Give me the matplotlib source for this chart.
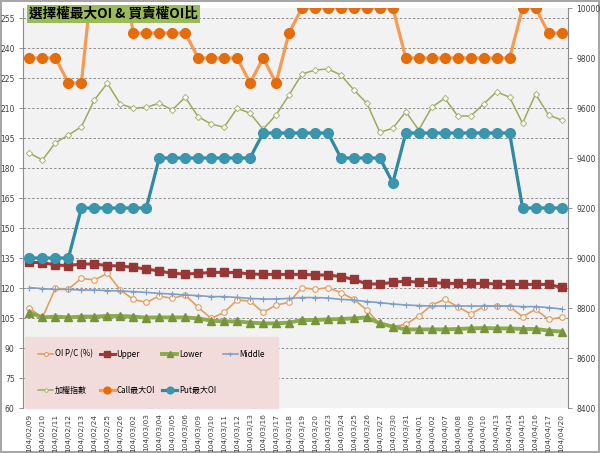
import matplotlib
matplotlib.use("Agg")
import matplotlib.pyplot as plt
import numpy as np

plt.rcParams['font.family'] = ['Noto Sans CJK TC', 'DejaVu Sans']

dates = ["104/02/09", "104/02/10", "104/02/11", "104/02/12", "104/02/13", "104/02/24",
         "104/02/25", "104/02/26", "104/03/02", "104/03/03", "104/03/04", "104/03/05",
         "104/03/06", "104/03/09", "104/03/10", "104/03/11", "104/03/12", "104/03/13",
         "104/03/16", "104/03/17", "104/03/18", "104/03/19", "104/03/20", "104/03/23",
         "104/03/24", "104/03/25", "104/03/26", "104/03/27", "104/03/30", "104/03/31",
         "104/04/01", "104/04/02", "104/04/07", "104/04/08", "104/04/09", "104/04/10",
         "104/04/13", "104/04/14", "104/04/15", "104/04/16", "104/04/17", "104/04/20"]

# left axis
oi_pc = [109.8, 105.3, 119.8, 119.5, 124.8, 124.0, 127.3, 119.0, 114.3, 112.8, 116.0, 114.8,
         116.5, 110.3, 104.8, 107.8, 114.0, 113.5, 107.8, 111.5, 112.8, 120.2, 119.3, 120.2,
         117.7, 114.3, 109.0, 101.8, 100.7, 101.8, 106.0, 111.5, 114.3, 110.7, 107.0, 110.7,
         111.2, 110.7, 105.7, 109.3, 104.3, 105.3]
upper = [132.8, 132.7, 131.5, 131.2, 132.0, 132.0, 131.2, 131.0, 130.3, 129.5, 128.5, 127.3,
         127.0, 127.3, 127.8, 127.8, 127.7, 127.0, 126.8, 126.8, 126.8, 126.8, 126.5, 126.5,
         125.7, 124.3, 122.0, 122.0, 122.8, 123.5, 122.8, 122.8, 122.3, 122.3, 122.3, 122.3,
         122.0, 121.8, 121.8, 121.8, 121.8, 120.3]
lower = [107.7, 105.3, 105.7, 105.3, 105.7, 105.7, 106.0, 106.0, 105.7, 105.2, 105.3, 105.3,
         105.3, 104.8, 103.7, 103.3, 103.3, 102.7, 102.3, 102.3, 102.7, 104.0, 104.0, 104.3,
         104.5, 104.8, 105.3, 102.3, 100.7, 99.3, 99.3, 99.3, 99.3, 99.5, 99.8, 100.0,
         99.8, 99.8, 99.5, 99.5, 98.7, 98.2]
middle = [120.2, 119.7, 119.3, 119.3, 119.0, 119.0, 118.7, 118.5, 118.2, 117.8, 117.3, 117.0,
          116.5, 116.2, 115.7, 115.7, 115.3, 114.8, 114.5, 114.5, 114.8, 115.2, 115.2, 115.0,
          114.3, 114.0, 113.2, 112.7, 112.0, 111.5, 111.2, 111.0, 111.0, 111.0, 111.0, 111.0,
          111.0, 111.0, 110.7, 110.7, 110.2, 109.5]

# right axis
taiex = [9419, 9392, 9461, 9492, 9525, 9632, 9699, 9616, 9599, 9603, 9619, 9592,
         9643, 9565, 9536, 9523, 9599, 9579, 9515, 9572, 9652, 9736, 9752, 9756,
         9732, 9672, 9619, 9503, 9519, 9585, 9512, 9603, 9639, 9568, 9568, 9616,
         9665, 9643, 9539, 9656, 9572, 9552]
call_max = [9800, 9800, 9800, 9700, 9700, 10200, 10200, 10200, 9900, 9900, 9900, 9900,
            9900, 9800, 9800, 9800, 9800, 9700, 9800, 9700, 9900, 10000, 10000, 10000,
            10000, 10000, 10000, 10000, 10000, 9800, 9800, 9800, 9800, 9800, 9800, 9800,
            9800, 9800, 10000, 10000, 9900, 9900]
put_max = [9000, 9000, 9000, 9000, 9200, 9200, 9200, 9200, 9200, 9200, 9400, 9400,
           9400, 9400, 9400, 9400, 9400, 9400, 9500, 9500, 9500, 9500, 9500, 9500,
           9400, 9400, 9400, 9400, 9300, 9500, 9500, 9500, 9500, 9500, 9500, 9500,
           9500, 9500, 9200, 9200, 9200, 9200]

x = np.arange(len(dates))

fig = plt.figure(figsize=(6.0, 4.53), dpi=100)
fig.patch.set_edgecolor("#a6a6a6")
fig.patch.set_linewidth(1.5)
ax = fig.add_axes([23 / 600, 1 - 408 / 453, 545 / 600, 400 / 453])
ax.set_facecolor("#f2f2f2")

l_pc, = ax.plot(x, oi_pc, color="#e0a060", lw=1.2, marker="o", ms=4,
                mfc="white", mec="#e59a5c", mew=0.8, label="OI P/C (%)")
l_up, = ax.plot(x, upper, color="#a33a38", lw=2.2, marker="s", ms=5.5,
                mfc="#953735", mec="#953735", label="Upper")
l_lo, = ax.plot(x, lower, color="#8aac48", lw=2.8, marker="^", ms=5.5,
                mfc="#77933c", mec="#77933c", label="Lower")
l_mid, = ax.plot(x, middle, color="#7f9fcb", lw=1.2, marker="+", ms=4,
                 mec="#7f9fcb", mew=0.8, label="Middle")

ax.set_xlim(-0.5, len(dates) - 0.5)
ax.set_ylim(60, 260)
ax.set_yticks(np.arange(60, 256, 15))
ax.yaxis.grid(True, ls=(0, (2.5, 2)), color="#8c8c8c", lw=0.7)
ax.set_axisbelow(True)
ax.set_xticks(x)
ax.set_xticklabels(dates, rotation=90, fontsize=5.3, color="#404040",
                   family=['DejaVu Sans'])
ax.tick_params(axis="x", length=0, pad=4)
ax.tick_params(axis="y", length=3, width=0.6, color="#808080", labelsize=5.5,
               labelcolor="#404040", pad=3)
for t in ax.get_yticklabels():
    t.set_family(['DejaVu Sans'])
for s in ["top", "bottom", "right"]:
    ax.spines[s].set_visible(False)
ax.spines["left"].set_color("#8c8c8c")
ax.spines["left"].set_linewidth(0.8)

ax2 = ax.twinx()
ax2.patch.set_visible(False)
l_tx, = ax2.plot(x, taiex, color="#9bab5e", lw=1.1, marker="D", ms=3.2,
                 mfc="white", mec="#a8b878", mew=0.7, label="加權指數")
l_call, = ax2.plot(x, call_max, color="#f79a52", lw=2.3, marker="o", ms=7,
                   mfc="#e46c0a", mec="#e46c0a", label="Call最大OI")
l_put, = ax2.plot(x, put_max, color="#2f89a2", lw=2.3, marker="o", ms=7,
                  mfc="#3a95ad", mec="#3a95ad", label="Put最大OI")
ax2.set_ylim(8400, 10000)
ax2.set_yticks(np.arange(8400, 10001, 200))
ax2.tick_params(axis="y", length=3, width=0.6, color="#808080", labelsize=5.5,
                labelcolor="#404040", pad=3)
for t in ax2.get_yticklabels():
    t.set_family(['DejaVu Sans'])
for s in ["top", "bottom", "left"]:
    ax2.spines[s].set_visible(False)
ax2.spines["right"].set_color("#8c8c8c")
ax2.spines["right"].set_linewidth(0.8)

# legend: row-major order in a 4-column grid
handles = [l_pc, l_tx, l_up, l_call, l_lo, l_put, l_mid]
leg = ax2.legend(handles=handles, labels=[h.get_label() for h in handles],
                 ncol=4, loc="lower left", bbox_to_anchor=(0.004, 0.0, 0.464, 0.19),
                 mode="expand", fontsize=5.8, frameon=True, fancybox=False,
                 facecolor="#f2dcdb", edgecolor="#f2dcdb", framealpha=1,
                 handlelength=1.9, handletextpad=0.2, labelspacing=3.4,
                 borderpad=1.6, borderaxespad=0, markerscale=0.7)
leg.set_zorder(10)

fig.text(29 / 600, 1 - 14 / 453, "選擇權最大OI & 買賣權OI比", fontsize=9.8,
         fontweight="bold", color="black", va="center", ha="left",
         bbox=dict(boxstyle="square,pad=0.18", facecolor="#9bbb59", edgecolor="none"))

fig.savefig("out.png", dpi=100, facecolor="white", edgecolor=fig.get_edgecolor())
